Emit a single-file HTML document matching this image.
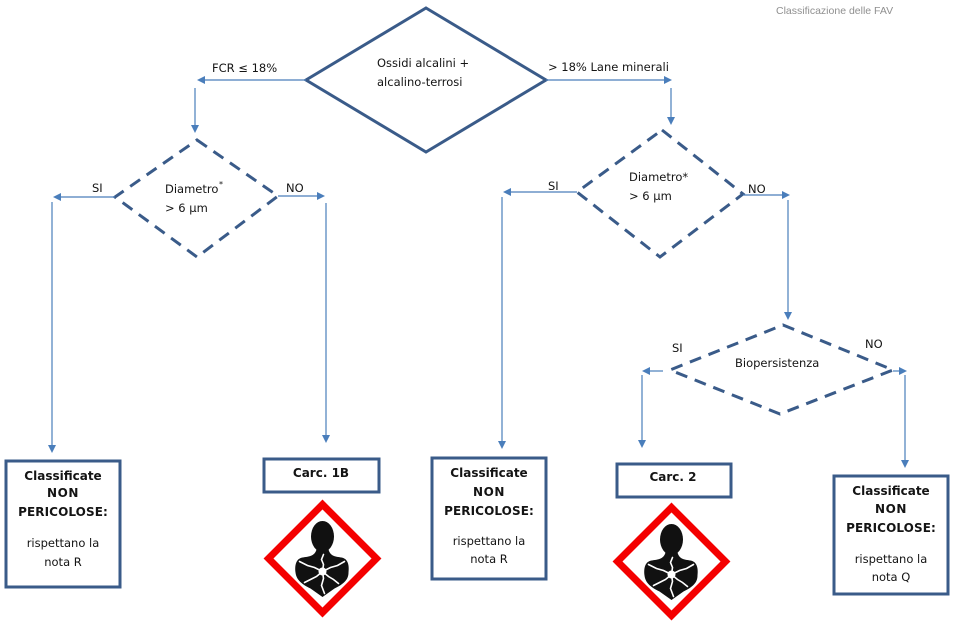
<!DOCTYPE html>
<html><head><meta charset="utf-8"><style>
html,body{margin:0;padding:0;background:#fff;}
svg{display:block;}
text{font-family:"DejaVu Sans","Liberation Sans",sans-serif;fill:#141414;}
.r{font-size:11.5px;}
.b{font-size:12px;font-weight:bold;}
.sp{letter-spacing:0.6px;}
.sp2{letter-spacing:0.1px;}
</style></head><body>
<svg width="956" height="621" viewBox="0 0 956 621" xmlns="http://www.w3.org/2000/svg">
<defs>
<g id="pict">
  <polygon points="0,-54 54,0 0,54 -54,0" fill="#fff" stroke="#f40000" stroke-width="7" stroke-linejoin="miter"/>
  <ellipse cx="0" cy="-22" rx="11.5" ry="15.5" fill="#111"/>
  <path d="M -6,-9 C -8,-2 -14,-2 -20,-1 C -26,0 -28,6 -27,14 C -26,22 -20,26 -12,30 L 0,38.5 L 12,30 C 20,26 26,22 26,14 C 27,6 25,0 19,-1 C 13,-2 8,-2 6,-9 Z" fill="#111"/>
  <g stroke="#fff" stroke-width="1.6" fill="none" stroke-linecap="round">
    <polyline points="0,13 1,6 -1,1 1,-4"/>
    <polyline points="0,13 -8,9 -15,7 -23,3"/>
    <polyline points="0,13 8,9 15,7 22,3"/>
    <polyline points="0,13 -6,18 -12,21 -18,24"/>
    <polyline points="0,13 6,18 11,21 16,25"/>
    <polyline points="0,13 1,20 -1,27 2,35"/>
  </g>
  <circle cx="0" cy="13" r="4" fill="#fff"/>
</g>
</defs>

<!-- title -->
<text x="776" y="14" style="font-family:'Liberation Sans',sans-serif;font-size:10.5px;fill:#8f8f8f;">Classificazione delle FAV</text>

<!-- main diamond -->
<polygon points="426,8 546,80 426,152 306,80" fill="#fff" stroke="#3a5b89" stroke-width="3"/>
<text class="r" x="377" y="67">Ossidi alcalini +</text>
<text class="r" x="377" y="86">alcalino-terrosi</text>

<!-- dashed diamonds -->
<polygon points="197,140 278,196 197,257 115,197" fill="none" stroke="#3a5b89" stroke-width="3" stroke-dasharray="12,8"/>
<text class="r" x="165" y="193">Diametro</text>
<text x="219" y="187" style="font-size:8px;">*</text>
<text class="r" x="165" y="212">&gt; 6 µm</text>

<polygon points="662,130 743,194 660,257 577,192" fill="none" stroke="#3a5b89" stroke-width="3" stroke-dasharray="12,8"/>
<text class="r" x="629" y="181">Diametro*</text>
<text class="r" x="629" y="200">&gt; 6 µm</text>

<polygon points="783,325 893,370 780,414 670,370" fill="none" stroke="#3a5b89" stroke-width="3" stroke-dasharray="12,8"/>
<text class="r" x="735" y="367">Biopersistenza</text>

<!-- connectors -->
<g stroke="#4a7ebb" stroke-width="1.2" fill="none">
  <line x1="306" y1="80" x2="204" y2="80"/>
  <line x1="546" y1="80" x2="665" y2="80"/>
  <line x1="195" y1="88" x2="195" y2="126"/>
  <line x1="671" y1="88" x2="671" y2="118"/>
  <line x1="115" y1="197" x2="60" y2="197"/>
  <line x1="52" y1="202" x2="52" y2="446"/>
  <line x1="278" y1="196" x2="318" y2="196"/>
  <line x1="326" y1="203" x2="326" y2="436"/>
  <line x1="577" y1="192" x2="510" y2="192"/>
  <line x1="502" y1="197" x2="502" y2="442"/>
  <line x1="743" y1="195" x2="783" y2="195"/>
  <line x1="788" y1="200" x2="788" y2="313"/>
  <line x1="663" y1="371" x2="649" y2="371"/>
  <line x1="642" y1="375" x2="642" y2="441"/>
  <line x1="893" y1="371" x2="900" y2="371"/>
  <line x1="905" y1="375" x2="905" y2="461"/>
</g>
<g fill="#4a7ebb">
  <polygon points="197,80 205,76 205,84"/>
  <polygon points="672,80 664,76 664,84"/>
  <polygon points="195,133 191,125 199,125"/>
  <polygon points="671,125 667,117 675,117"/>
  <polygon points="53,197 61,193 61,201"/>
  <polygon points="52,453 48,445 56,445"/>
  <polygon points="325,196 317,192 317,200"/>
  <polygon points="326,443 322,435 330,435"/>
  <polygon points="503,192 511,188 511,196"/>
  <polygon points="502,449 498,441 506,441"/>
  <polygon points="790,195 782,191 782,199"/>
  <polygon points="788,320 784,312 792,312"/>
  <polygon points="642,371 650,367 650,375"/>
  <polygon points="642,448 638,440 646,440"/>
  <polygon points="907,371 899,367 899,375"/>
  <polygon points="905,468 901,460 909,460"/>
</g>

<!-- labels -->
<text class="r" x="212" y="72">FCR ≤ 18%</text>
<text class="r" x="548" y="71">&gt; 18% Lane minerali</text>
<text class="r" x="92" y="192">SI</text>
<text class="r" x="286" y="192">NO</text>
<text class="r" x="548" y="190">SI</text>
<text class="r" x="748" y="193">NO</text>
<text class="r" x="672" y="352">SI</text>
<text class="r" x="865" y="348">NO</text>

<!-- boxes -->
<g fill="#fff" stroke="#3a5b89" stroke-width="3">
  <rect x="6" y="461" width="114" height="126"/>
  <rect x="264" y="459" width="115" height="33"/>
  <rect x="432" y="458" width="114" height="121"/>
  <rect x="617" y="464" width="114" height="33"/>
  <rect x="834" y="476" width="114" height="118"/>
</g>

<g text-anchor="middle">
  <text class="b" x="63" y="480">Classificate</text>
  <text class="b sp" x="63" y="497">NON</text>
  <text class="b sp2" x="63" y="516">PERICOLOSE:</text>
  <text class="r" x="63" y="547">rispettano la</text>
  <text class="r" x="63" y="566">nota R</text>

  <text class="b" x="321" y="477">Carc. 1B</text>

  <text class="b" x="489" y="477">Classificate</text>
  <text class="b sp" x="489" y="496">NON</text>
  <text class="b sp2" x="489" y="515">PERICOLOSE:</text>
  <text class="r" x="489" y="545">rispettano la</text>
  <text class="r" x="489" y="563">nota R</text>

  <text class="b" x="673" y="481">Carc. 2</text>

  <text class="b" x="891" y="495">Classificate</text>
  <text class="b sp" x="891" y="513">NON</text>
  <text class="b sp2" x="891" y="532">PERICOLOSE:</text>
  <text class="r" x="891" y="563">rispettano la</text>
  <text class="r" x="891" y="581">nota Q</text>
</g>

<!-- pictograms -->
<use href="#pict" transform="translate(322.5,558.5)"/>
<use href="#pict" transform="translate(671.5,561.5)"/>
</svg>
</body></html>
